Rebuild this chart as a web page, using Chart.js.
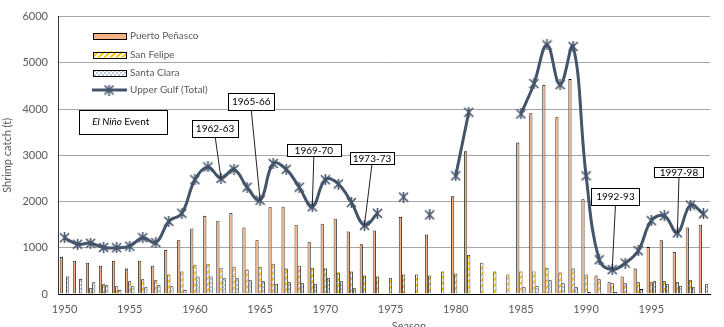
<!DOCTYPE html>
<html>
<head>
<meta charset="utf-8">
<script src="https://cdn.jsdelivr.net/npm/chart.js@4.4.0/dist/chart.umd.min.js"></script>
<style>
  html, body { margin: 0; padding: 0; background: #fff; }
</style>
</head>
<body>
<canvas id="shrimpChart" width="724" height="327"></canvas>
<script>
// seasons 1950 .. 1999
const seasons = ['1950','1951','1952','1953','1954','1955','1956','1957','1958','1959',
  '1960','1961','1962','1963','1964','1965','1966','1967','1968','1969',
  '1970','1971','1972','1973','1974','1975','1976','1977','1978','1979',
  '1980','1981','1982','1983','1984','1985','1986','1987','1988','1989',
  '1990','1991','1992','1993','1994','1995','1996','1997','1998','1999'];

const puertoPenasco = [803, 718, 676, 613, 718, 549, 718, 613, 951, 1162,
  1416, 1690, 1585, 1754, 1437, 1162, 1887, 1887, 1500, 1120,
  1521, 1627, 1352, 1077, 1373, null, 1669, null, 1289, null,
  2113, 3085, null, null, null, 3275, 3909, 4521, 3824, 4648,
  2049, 401, 254, 380, 549, 1014, 1162, 908, 1437, 1500];

const sanFelipe = [null, null, 127, 211, 169, 275, 317, 296, 423, 486,
  634, 655, 570, 592, 528, 592, 655, 549, 613, 570,
  549, 465, 486, 401, 380, 338, 423, 423, 401, 486,
  444, 845, 676, 486, 423, 486, 486, 570, 465, 549,
  423, 317, 232, 232, 254, 254, 275, 254, 296, null];

const santaClara = [380, 323, 254, 190, 85, 169, 148, 190, 169, 85,
  380, 380, 338, 338, 296, 275, 224, 254, 232, 211,
  338, 275, 127, null, null, null, null, null, null, null,
  null, null, null, null, null, 148, 169, 296, 232, 148,
  42, 21, 42, 21, 106, 275, 211, 169, 148, 211];

const upperGulfTotal = [1217, 1077, 1099, 1006, 1000, 1035, 1217, 1111, 1570, 1745,
  2472, 2747, 2500, 2696, 2309, 2028, 2823, 2696, 2309, 1887,
  2472, 2379, 1978, 1485, 1745, null, 2098, null, 1711, null,
  2556, 3930, null, null, null, 3894, 4549, 5388, 4528, 5352,
  2556, 740, 528, 668, 936, 1585, 1690, 1323, 1923, 1733];

const yTicks = [0, 1000, 2000, 3000, 4000, 5000, 6000];

// El Nino callouts: label + season the leader points at
const ninoLabels = ['1962-63', '1965-66', '1969-70', '1973-73', '1992-93', '1997-98'];
const ninoSeasons = ['1962', '1965', '1969', '1973', '1992', '1997'];

const FONT = 'Lato, "Open Sans", "DejaVu Sans", sans-serif';
const TEXT = '#595959';
const LINE = '#44546A';

function stripePattern() {
  const c = document.createElement('canvas');
  c.width = 6; c.height = 6;
  const g = c.getContext('2d');
  g.fillStyle = '#fff';
  g.fillRect(0, 0, 6, 6);
  g.strokeStyle = '#FFC000';
  g.lineWidth = 2;
  g.beginPath();
  g.moveTo(0, 6); g.lineTo(6, 0);
  g.moveTo(-3, 3); g.lineTo(3, -3);
  g.moveTo(3, 9); g.lineTo(9, 3);
  g.stroke();
  return g.createPattern(c, 'repeat');
}

function dotPattern() {
  const c = document.createElement('canvas');
  c.width = 4; c.height = 4;
  const g = c.getContext('2d');
  g.fillStyle = '#fff';
  g.fillRect(0, 0, 4, 4);
  g.fillStyle = '#BFC9D8';
  g.fillRect(0, 0, 2, 2);
  g.fillRect(2, 2, 2, 2);
  return g.createPattern(c, 'repeat');
}

function starMarker() {
  const c = document.createElement('canvas');
  c.width = 11; c.height = 11;
  const g = c.getContext('2d');
  g.strokeStyle = LINE;
  g.lineWidth = 1.6;
  g.beginPath();
  g.moveTo(1, 1); g.lineTo(10, 10);
  g.moveTo(10, 1); g.lineTo(1, 10);
  g.moveTo(5.5, 0); g.lineTo(5.5, 11);
  g.stroke();
  return c;
}

const stripes = stripePattern();
const dots = dotPattern();
const marker = starMarker();

// callout boxes: centre given in (season index, catch) units, size in px
const calloutBoxes = [
  {cx: 11.55, cy: 3590, w: 46, h: 17},
  {cx: 14.32, cy: 4165, w: 46, h: 17},
  {cx: 19.12, cy: 3110, w: 54, h: 12},
  {cx: 23.58, cy: 2945, w: 44, h: 12},
  {cx: 42.25, cy: 2105, w: 48, h: 17},
  {cx: 47.12, cy: 2630, w: 49, h: 10}
];

const overlay = {
  id: 'overlay',
  afterDatasetsDraw(chart) {
    const {ctx, scales: {x, y}, chartArea} = chart;
    ctx.save();

    // El Nino legend box
    const ex = x.getPixelForValue(4.5), ey = y.getPixelForValue(3720);
    ctx.fillStyle = '#fff';
    ctx.strokeStyle = '#000';
    ctx.lineWidth = 1;
    ctx.fillRect(ex - 44, ey - 12, 88, 24);
    ctx.strokeRect(Math.round(ex - 44) + 0.5, Math.round(ey - 12) + 0.5, 88, 24);
    ctx.textBaseline = 'middle';
    ctx.textAlign = 'left';
    ctx.fillStyle = '#000';
    ctx.font = 'italic 10px ' + FONT;
    ctx.fillText('El Niño', ex - 31, ey);
    const w1 = ctx.measureText('El Niño ').width;
    ctx.font = '10px ' + FONT;
    ctx.fillText('Event', ex - 31 + w1, ey);

    // callouts
    ninoLabels.forEach((lab, i) => {
      const b = calloutBoxes[i];
      const idx = seasons.indexOf(ninoSeasons[i]);
      const px = x.getPixelForValue(idx), py = y.getPixelForValue(upperGulfTotal[idx]);
      const bx = x.getPixelForValue(b.cx), by = y.getPixelForValue(b.cy);
      ctx.strokeStyle = '#222';
      ctx.lineWidth = 1;
      ctx.beginPath();
      ctx.moveTo(bx, by + b.h / 2);
      ctx.lineTo(px, py);
      ctx.stroke();
      const left = Math.round(bx - b.w / 2) + 0.5, top = Math.round(by - b.h / 2) + 0.5;
      ctx.fillStyle = '#fff';
      ctx.fillRect(left, top, b.w, b.h);
      ctx.strokeStyle = '#000';
      ctx.strokeRect(left, top, b.w, b.h);
      ctx.fillStyle = '#000';
      ctx.font = '10px ' + FONT;
      ctx.textAlign = 'center';
      ctx.fillText(lab, bx, by + 0.5);
    });

    // legend
    const lx = chartArea.left + 35, names = ['Puerto Peñasco', 'San Felipe', 'Santa Clara', 'Upper Gulf (Total)'];
    const rows = [36, 54.5, 73, 90];
    const fills = ['#F4B183', stripes, dots];
    ctx.textAlign = 'left';
    ctx.font = '10px ' + FONT;
    names.forEach((n, i) => {
      const ry = rows[i];
      if (i < 3) {
        ctx.fillStyle = fills[i];
        ctx.fillRect(lx, ry - 3, 33, 6);
        ctx.strokeStyle = '#000';
        ctx.strokeRect(lx + 0.5, Math.round(ry - 3) + 0.5, 33, 6);
      } else {
        ctx.strokeStyle = LINE;
        ctx.lineWidth = 3;
        ctx.beginPath();
        ctx.moveTo(lx - 1, ry);
        ctx.lineTo(lx + 34, ry);
        ctx.stroke();
        ctx.drawImage(marker, lx + 16 - 5.5, ry - 5.5);
      }
      ctx.fillStyle = TEXT;
      ctx.fillText(n, lx + 37, ry);
    });

    // x axis title (sits right of centre, clipped at bottom)
    ctx.font = '11px ' + FONT;
    ctx.textAlign = 'center';
    ctx.textBaseline = 'alphabetic';
    ctx.fillStyle = TEXT;
    ctx.fillText('Season', 409, 330);
    ctx.restore();
  }
};

const barStyle = {
  borderColor: '#000',
  borderWidth: 0.8,
  categoryPercentage: 0.72,
  barPercentage: 1,
  order: 1
};

new Chart(document.getElementById('shrimpChart'), {
  type: 'bar',
  data: {
    labels: seasons,
    datasets: [
      {
        type: 'line',
        label: 'Upper Gulf (Total)',
        data: upperGulfTotal,
        borderColor: LINE,
        borderWidth: 3,
        tension: 0.4,
        spanGaps: false,
        pointStyle: marker,
        pointRadius: 5,
        order: 0
      },
      Object.assign({label: 'Puerto Peñasco', data: puertoPenasco, backgroundColor: '#F4B183'}, barStyle),
      Object.assign({label: 'San Felipe', data: sanFelipe, backgroundColor: stripes}, barStyle),
      Object.assign({label: 'Santa Clara', data: santaClara, backgroundColor: dots}, barStyle)
    ]
  },
  options: {
    responsive: false,
    animation: false,
    layout: {padding: {left: 0, right: 14, top: 10, bottom: 0}},
    plugins: {
      legend: {display: false},
      tooltip: {enabled: false}
    },
    scales: {
      x: {
        grid: {display: false, drawTicks: false},
        border: {color: '#000', width: 1},
        ticks: {
          autoSkip: false,
          maxRotation: 0,
          padding: 9,
          color: TEXT,
          font: {family: FONT, size: 11},
          callback: function (v) {
            const s = this.getLabelForValue(v);
            return Number(s) % 5 === 0 ? s : '';
          }
        },
        afterFit(scale) { scale.height = 33; }
      },
      y: {
        min: 0,
        max: 6000,
        afterBuildTicks(scale) { scale.ticks = yTicks.map(v => ({value: v})); },
        grid: {color: '#A6A6A6', drawTicks: false},
        border: {color: '#333', width: 1},
        ticks: {
          padding: 10,
          color: TEXT,
          font: {family: FONT, size: 11},
          callback: v => String(v)
        },
        title: {
          display: true,
          text: 'Shrimp catch (t)',
          color: TEXT,
          font: {family: FONT, size: 11},
          padding: {top: 1, bottom: 0}
        },
        afterFit(scale) { scale.width = 58; }
      }
    }
  },
  plugins: [overlay]
});
</script>
</body>
</html>
